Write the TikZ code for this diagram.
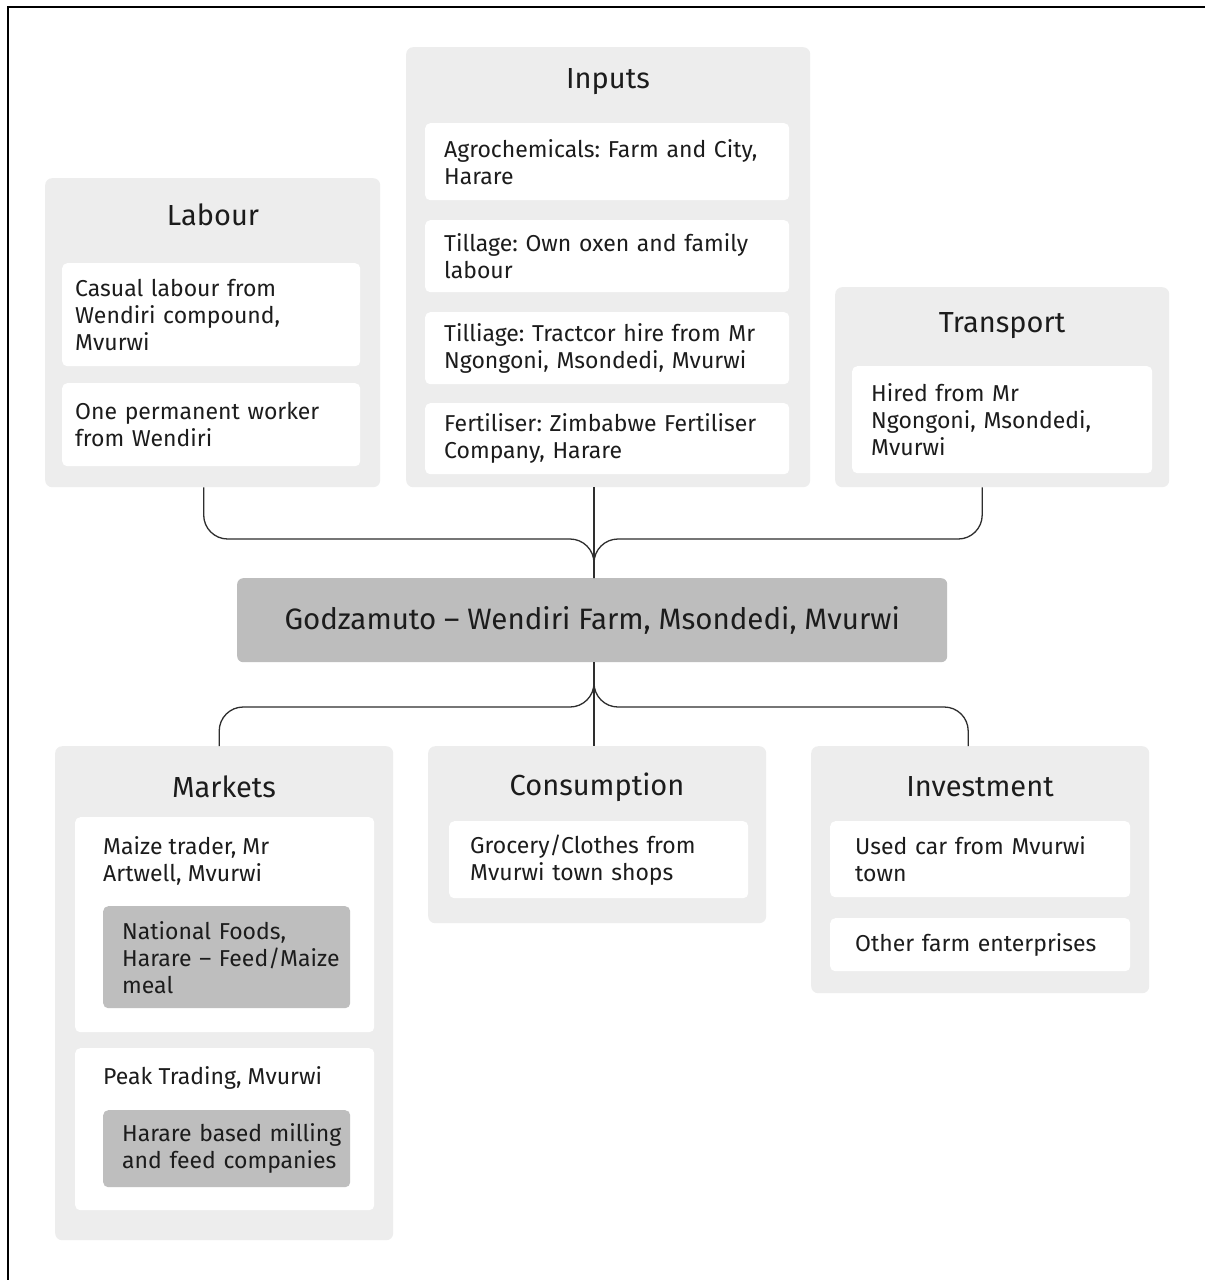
\documentclass[tikz,border=0pt]{standalone}
\usepackage{fontspec}
\setmainfont{Fira Sans}
\frenchspacing
\definecolor{panelgray}{HTML}{EDEDED}
\definecolor{hubgray}{HTML}{BDBDBD}
\definecolor{darkcard}{HTML}{BEBEBE}
\definecolor{inkc}{HTML}{1C1C1C}
\definecolor{linkc}{HTML}{2E2E2E}
\begin{document}
\begin{tikzpicture}[x=1pt,y=-1pt,
  every node/.style={text=inkc},
  panel/.style 2 args={fill=panelgray, rounded corners=7, inner sep=0pt,
    anchor=north west, minimum width=#1, minimum height=#2},
  ttl/.style={font=\fontsize{29}{32}\selectfont},
  card/.style n args={3}{fill=white, rounded corners=5, anchor=north west,
    inner ysep=0pt, inner xsep=#3, text width=#1-2*#3, minimum height=#2,
    align=left, font=\fontsize{23}{27}\selectfont},
  dcard/.style n args={3}{card={#1}{#2}{#3}, fill=darkcard},
  plain/.style={anchor=north west, inner sep=0pt, align=left,
    font=\fontsize{23}{27}\selectfont},
  hubbox/.style={fill=hubgray, rounded corners=6, anchor=north west,
    minimum width=710, minimum height=84, inner sep=0pt,
    font=\fontsize{29.5}{32}\selectfont},
  link/.style={draw=linkc, line width=1.3pt, rounded corners=24}
]
\useasboundingbox (0,0) rectangle (1205,1280);
\fill[white] (0,0) rectangle (1205,1280);
% frame
\draw[line width=2pt, black] (8,1280) -- (8,7) -- (1205,7);

% ---- Labour
\node[panel={335}{309}] (labour) at (45,178) {};
\node[ttl] (labourT) at (213,215) {Labour};
\node[card={298}{103}{13}] (lab1) at (62,263) {Casual labour from\\Wendiri compound,\\Mvurwi};
\node[card={298}{83}{13}] (lab2) at (62,383) {One permanent worker\\from Wendiri};

% ---- Inputs
\node[panel={404}{440}] (inputs) at (406,47) {};
\node[ttl] (inputsT) at (608,82) {Inputs};
\node[card={364}{77}{19}] (in1) at (425,123) {Agrochemicals: Farm and City,\\Harare};
\node[card={364}{72}{19}] (in2) at (425,220) {Tillage: Own oxen and family\\labour};
\node[card={364}{72}{19}] (in3) at (425,312) {\mbox{Tilliage: Tractcor hire from Mr}\\\mbox{Ngongoni, Msondedi, Mvurwi}};
\node[card={364}{71}{19}] (in4) at (425,403) {\mbox{Fertiliser: Zimbabwe Fertiliser}\\Company, Harare};

% ---- Transport
\node[panel={334}{200}] (transport) at (835,287) {};
\node[ttl] (transportT) at (1002,326) {Transport};
\node[card={300}{107}{19}] (tr1) at (852,366) {Hired from Mr\\Ngongoni, Msondedi,\\Mvurwi};

% ---- Central farm
\node[hubbox] (hub) at (237,578) {Godzamuto -- Wendiri Farm, Msondedi, Mvurwi};

% ---- Markets
\node[panel={338}{494}] (markets) at (55,746) {};
\node[ttl] (marketsT) at (224,787) {Markets};
\node[fill=white, rounded corners=5, anchor=north west, inner sep=0pt,
  minimum width=299, minimum height=215] (mk1) at (75,817) {};
\node[plain] (mk1t) at (103,836) {Maize trader, Mr\\Artwell, Mvurwi};
\node[dcard={247}{102}{19}] (mk1d) at (103,906) {National Foods,\\\mbox{Harare -- Feed/Maize}\\meal};
\node[fill=white, rounded corners=5, anchor=north west, inner sep=0pt,
  minimum width=299, minimum height=162] (mk2) at (75,1048) {};
\node[plain] (mk2t) at (103,1066) {Peak Trading, Mvurwi};
\node[dcard={247}{77}{19}] (mk2d) at (103,1110) {\mbox{Harare based milling}\\\mbox{and feed companies}};

% ---- Consumption
\node[panel={338}{177}] (consumption) at (428,746) {};
\node[ttl] (consumptionT) at (597,787) {Consumption};
\node[card={299}{77}{21}] (co1) at (449,821) {Grocery/Clothes from\\Mvurwi town shops};

% ---- Investment
\node[panel={338}{247}] (investment) at (811,746) {};
\node[ttl] (investmentT) at (980,787) {Investment};
\node[card={300}{76}{25}] (iv1) at (830,821) {Used car from Mvurwi\\town};
\node[card={300}{53}{25}] (iv2) at (830,918) {\mbox{Other farm enterprises}};

% ---- connectors into the farm
\coordinate (topbus) at (594,539);
\draw[link] ([xshift=-9pt]labour.south) |- (topbus) -- (hub.north -| topbus);
\draw[link] ([xshift=-20pt]transport.south) |- (topbus) -- (hub.north -| topbus);
\draw[link] (inputs.south -| topbus) -- (hub.north -| topbus);

% ---- connectors out of the farm
\coordinate (botbus) at (594,707);
\draw[link] (hub.south -| botbus) -- (botbus) -| ([xshift=-5pt]markets.north);
\draw[link] (hub.south -| botbus) -- (botbus) -| ([xshift=-12pt]investment.north);
\draw[link] (hub.south -| botbus) -- (consumption.north -| botbus);
\end{tikzpicture}
\end{document}
